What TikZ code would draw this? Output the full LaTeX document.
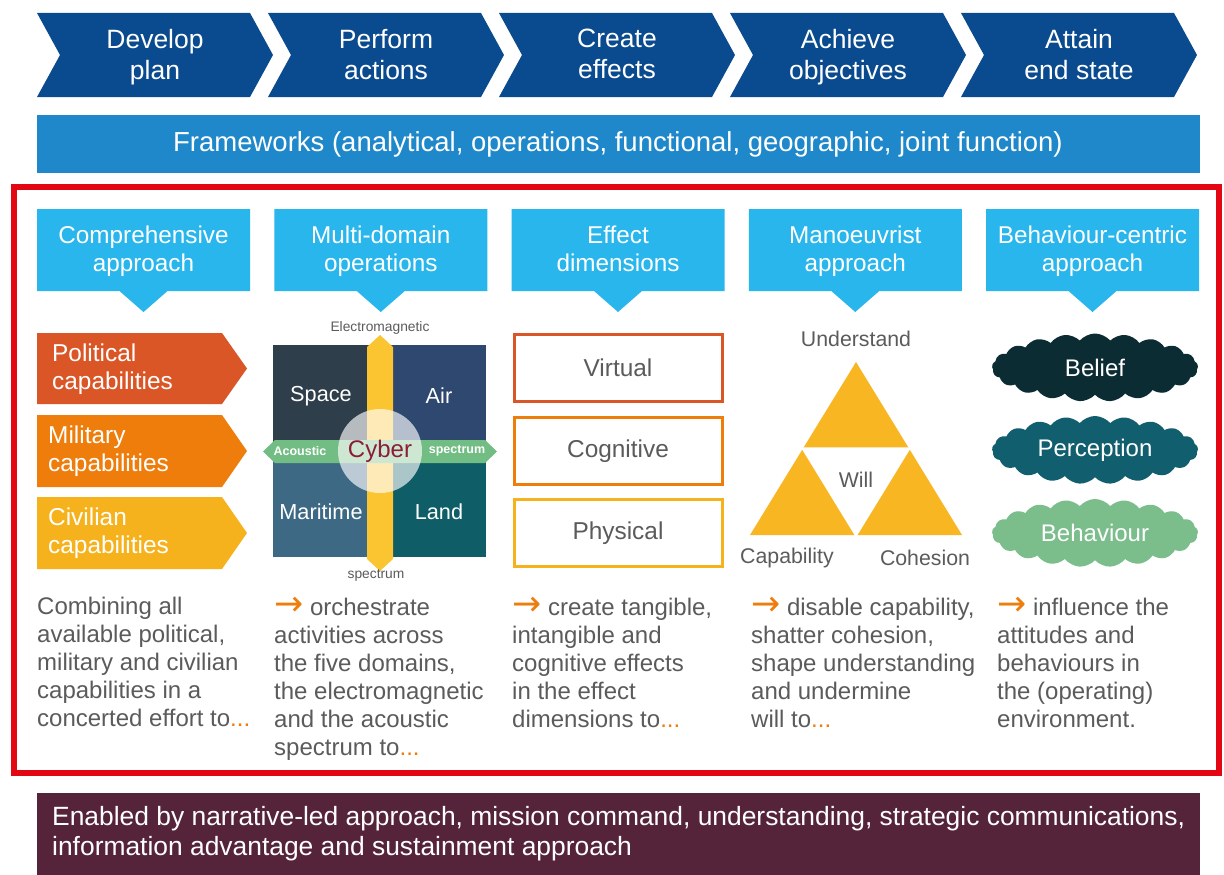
\documentclass[tikz,border=0pt]{standalone}
\usepackage{fontspec}
\usepackage{graphicx}
\setmainfont{Liberation Sans}
\newfontfamily\symfont{DejaVu Sans}
\usetikzlibrary{shapes.symbols}
\definecolor{chev}{HTML}{0A4A8E}
\definecolor{fwblue}{HTML}{1E88CB}
\definecolor{framered}{HTML}{E30613}
\definecolor{hdrblue}{HTML}{29B6EC}
\definecolor{pol}{HTML}{DA5626}
\definecolor{mil}{HTML}{EE7D0B}
\definecolor{civ}{HTML}{F6B21C}
\definecolor{space}{HTML}{2F3E4B}
\definecolor{air}{HTML}{2E4870}
\definecolor{mari}{HTML}{3D6985}
\definecolor{land}{HTML}{0F5D66}
\definecolor{emyellow}{HTML}{FBC531}
\definecolor{acgreen}{HTML}{71BD83}
\definecolor{cyberred}{HTML}{8C1D36}
\definecolor{txtgray}{HTML}{5B5B5B}
\definecolor{tri}{HTML}{F8B622}
\definecolor{belief}{HTML}{0C2C33}
\definecolor{percep}{HTML}{115F6E}
\definecolor{behav}{HTML}{7BBE8C}
\definecolor{maroon}{HTML}{55243A}
\definecolor{arrowor}{HTML}{EE7D0B}
\newcommand{\fsz}[2]{\fontsize{#1}{#2}\selectfont}
\newcommand{\oarr}{\textcolor{arrowor}{\scalebox{1.45}{\symfont →}}}
\newcommand{\odots}{\textcolor{arrowor}{...}}
\begin{document}
\begin{tikzpicture}[x=1pt,y=-1pt,
  struts/.style={execute at begin node=\strut, execute at end node=\strut},
  chevtext/.style={text=white,font=\fsz{26.5}{31},align=center,struts},
  hdrtext/.style={text=white,font=\fsz{24.3}{28},align=center,struts},
  captext/.style={text=white,font=\fsz{24.4}{28},align=left,anchor=west,inner sep=0,struts},
  quadtext/.style={text=white,font=\fsz{21.7}{24}},
  dimtext/.style={text=txtgray,font=\fsz{24.4}{26}},
  tritext/.style={text=txtgray,font=\fsz{21.3}{24}},
  bodytext/.style={text=txtgray,font=\fsz{24}{28},align=left,anchor=north west,inner sep=0},
  cloudnode/.style={cloud, cloud puffs=21, cloud puff arc=100, aspect=3.1, minimum width=206, minimum height=68, inner sep=0, text=white, font=\fsz{24}{26}},
]
\useasboundingbox (0,0) rectangle (1224,875);
\fill[white] (0,0) rectangle (1224,875);

% top chevrons
\foreach \i/\t in {0/{Develop\\plan},1/{Perform\\actions},2/{Create\\effects},3/{Achieve\\objectives},4/{Attain\\end state}}{
  \pgfmathsetmacro{\xo}{37+231*\i}
  \fill[chev] (\xo,13) -- (\xo+213,13) -- (\xo+236,55) -- (\xo+213,97) -- (\xo,97) -- (\xo+23,55) -- cycle;
  \node[chevtext] (chev\i) at (\xo+118,58.8) {\t};
}

% frameworks bar
\fill[fwblue] (37,115) rectangle (1200,173);
\node[text=white,font=\fsz{27.5}{30}] (fw) at (618,144) {Frameworks (analytical, operations, functional, geographic, joint function)};

% red frame
\draw[framered,line width=6] (14,187) rectangle (1219,773);

% column headers
\foreach \i/\t in {0/{Comprehensive\\approach},1/{Multi-domain\\operations},2/{Effect\\dimensions},3/{Manoeuvrist\\approach},4/{Behaviour-centric\\approach}}{
  \pgfmathsetmacro{\xo}{37+237.25*\i}
  \fill[hdrblue] (\xo,209) -- (\xo+213,209) -- (\xo+213,291) -- (\xo+130.5,291) -- (\xo+106.5,312) -- (\xo+82.5,291) -- (\xo,291) -- cycle;
  \node[hdrtext] (hdr\i) at (\xo+106.5,253) {\t};
}

% capability arrows
\fill[pol] (37,333) -- (222,333) -- (247,368.5) -- (222,404) -- (37,404) -- cycle;
\node[captext] (polt) at (52,371) {Political\\capabilities};
\fill[mil] (37,415) -- (222,415) -- (247,451) -- (222,487) -- (37,487) -- cycle;
\node[captext] (milt) at (48,453) {Military\\capabilities};
\fill[civ] (37,497) -- (222,497) -- (247,533) -- (222,569) -- (37,569) -- cycle;
\node[captext] (civt) at (48,535) {Civilian\\capabilities};

% multi-domain grid
\fill[space] (273,345) rectangle (380,451);
\fill[air] (380,345) rectangle (486,451);
\fill[mari] (273,451) rectangle (380,557);
\fill[land] (380,451) rectangle (486,557);
\fill[emyellow] (367,347) -- (380,335) -- (393,347) -- (393,559) -- (380,571) -- (367,559) -- cycle;
\fill[acgreen] (275,440) -- (485,440) -- (497,451.5) -- (485,463) -- (275,463) -- (263,451.5) -- cycle;
\fill[white,opacity=0.65] (380,451) circle (42);
\node[quadtext] (spacet) at (321,396) {Space};
\node[quadtext] (airt) at (439,396) {Air};
\node[quadtext] (marit) at (321,512) {Maritime};
\node[quadtext] (landt) at (439,512) {Land};
\node[text=cyberred,font=\fsz{24}{26}] (cyber) at (380,451) {Cyber};
\node[text=white,font=\bfseries\fsz{12.5}{14}] (acou) at (300,451) {Acoustic};
\node[text=white,font=\bfseries\fsz{12.5}{14}] (specr) at (457,451) {spectrum};
\node[text=txtgray,font=\fsz{13.8}{15}] (em) at (380,328) {Electromagnetic};
\node[text=txtgray,font=\fsz{13.8}{15}] (specb) at (376,575) {spectrum};

% effect dimensions
\draw[pol,line width=3] (514,334.5) rectangle (722.5,401.5);
\node[dimtext] (virt) at (618,368) {Virtual};
\draw[mil,line width=3] (514,417.5) rectangle (722.5,484.5);
\node[dimtext] (cogn) at (618,451) {Cognitive};
\draw[civ,line width=3] (514,499.5) rectangle (722.5,566.5);
\node[dimtext] (phys) at (618,533) {Physical};

% manoeuvrist triangle
\fill[tri] (750,535) -- (856,362) -- (962,535) -- cycle;
\filldraw[fill=white,draw=white,line width=2.5,line join=miter] (803,448.5) -- (909,448.5) -- (856,535) -- cycle;
\node[tritext] (und) at (856,339) {Understand};
\node[tritext] (will) at (856,480) {Will};
\node[tritext] (capa) at (787,558) {Capability};
\node[tritext] (cohe) at (925,558) {Cohesion};

% clouds
\node[cloudnode,fill=belief] (bel) at (1095,367.5) {Belief};
\node[cloudnode,fill=percep] (per) at (1095,450) {Perception};
\node[cloudnode,fill=behav] (beh) at (1095,533) {Behaviour};

% body texts
\node[bodytext] (b1) at (37,597) {Combining all\\available political,\\military and civilian\\capabilities in a\\concerted effort to\odots};
\node[bodytext] (b2) at (274,597) {\oarr\ orchestrate\\activities across\\the five domains,\\the electromagnetic\\and the acoustic\\spectrum to\odots};
\node[bodytext] (b3) at (512,597) {\oarr\ create tangible,\\intangible and\\cognitive effects\\in the effect\\dimensions to\odots};
\node[bodytext] (b4) at (751,597) {\oarr\ disable capability,\\shatter cohesion,\\shape understanding\\and undermine\\will to\odots};
\node[bodytext] (b5) at (997,597) {\oarr\ influence the\\attitudes and\\behaviours in\\the (operating)\\environment.};

% bottom bar
\fill[maroon] (37,793) rectangle (1200,875);
\node[text=white,font=\fsz{26.4}{30},align=left,anchor=west,inner sep=0] (enab) at (52,834) {Enabled by narrative-led approach, mission command, understanding, strategic communications,\\information advantage and sustainment approach};
\end{tikzpicture}
\end{document}
